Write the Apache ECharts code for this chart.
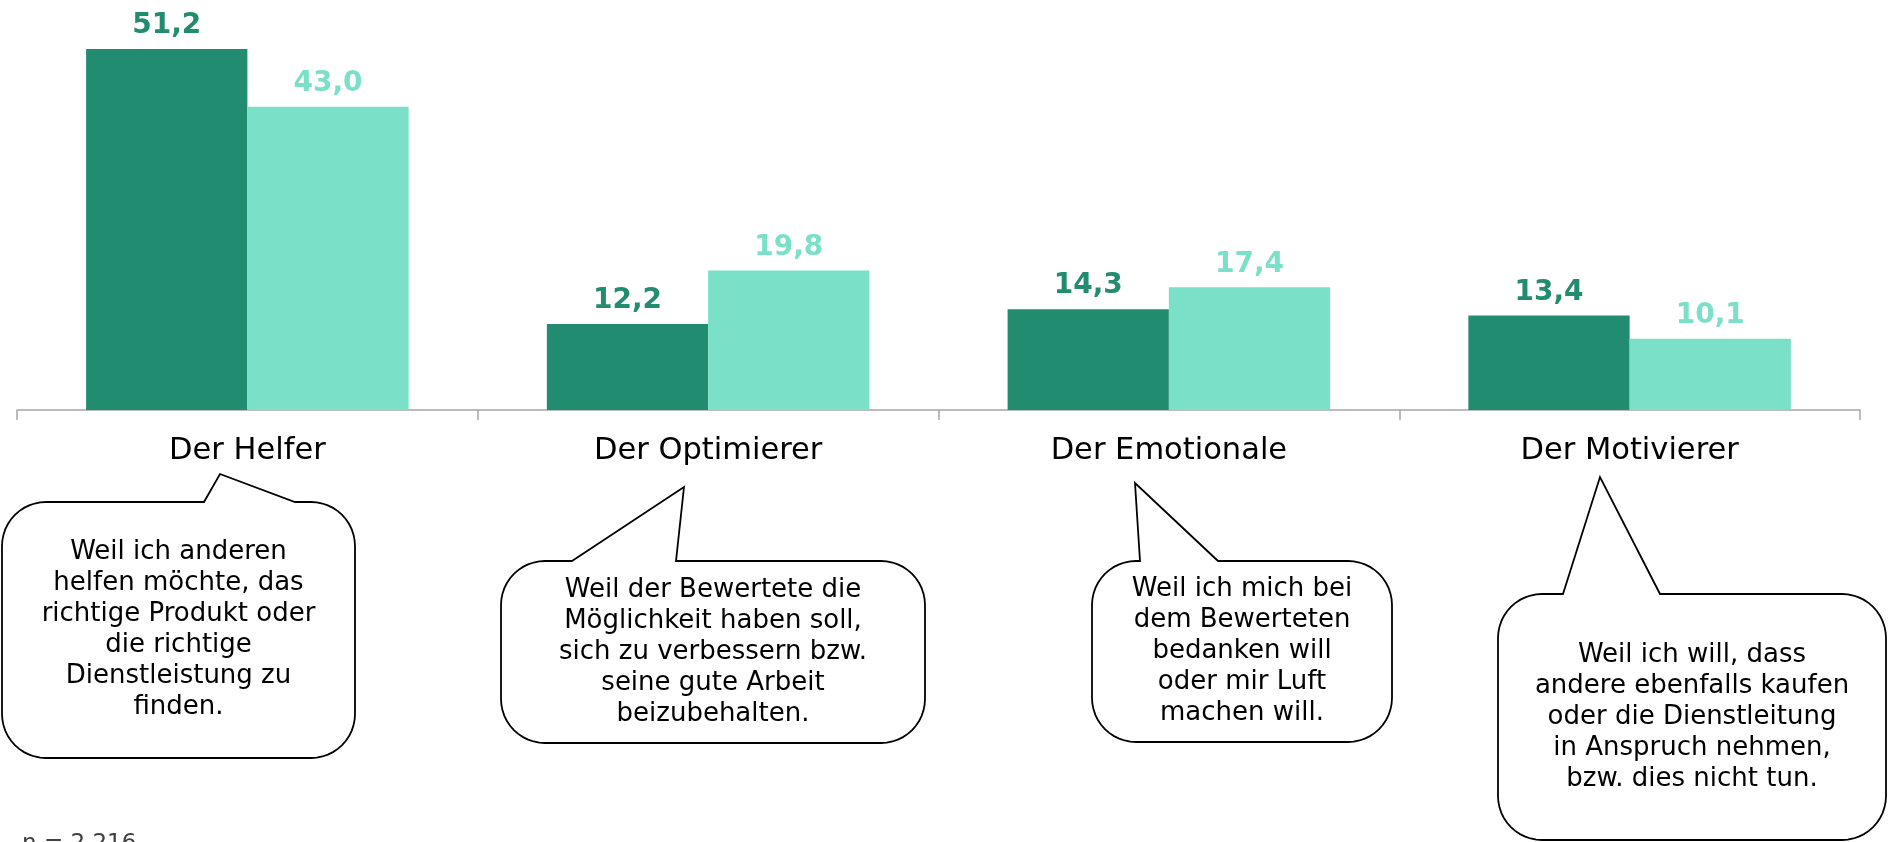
<!DOCTYPE html>
<html>
<head>
<meta charset="utf-8">
<script src="https://cdn.jsdelivr.net/npm/echarts@6/dist/echarts.min.js"></script>
<style>
  html, body { margin: 0; padding: 0; background: #fff; }
  #chart { width: 1904px; height: 842px; }
</style>
</head>
<body>
<div id="chart"></div>
<script>
var categories = ['Der Helfer', 'Der Optimierer', 'Der Emotionale', 'Der Motivierer'];
var valuesDark = [51.2, 12.2, 14.3, 13.4];
var valuesLight = [43.0, 19.8, 17.4, 10.1];

var bubbleTexts = [
  ['Weil ich anderen', 'helfen möchte, das', 'richtige Produkt oder', 'die richtige', 'Dienstleistung zu', 'finden.'],
  ['Weil der Bewertete die', 'Möglichkeit haben soll,', 'sich zu verbessern bzw.', 'seine gute Arbeit', 'beizubehalten.'],
  ['Weil ich mich bei', 'dem Bewerteten', 'bedanken will', 'oder mir Luft', 'machen will.'],
  ['Weil ich will, dass', 'andere ebenfalls kaufen', 'oder die Dienstleitung', 'in Anspruch nehmen,', 'bzw. dies nicht tun.']
];
var footnote = 'n = 2.216';

var DARK = '#228c71';
var LIGHT = '#7be0c8';
var FONT = 'Verdana, "DejaVu Sans", sans-serif';

// box: x0, y0, x1, y1 ; tail: start x on top edge, tip x, tip y, end x on top edge
var bubbleBoxes = [
  {x0: 2, y0: 502, x1: 355, y1: 758, tail: [204, 220, 474, 295]},
  {x0: 501, y0: 561, x1: 925, y1: 743, tail: [572, 684, 487, 676]},
  {x0: 1092, y0: 561, x1: 1392, y1: 742, tail: [1140, 1135, 483, 1218]},
  {x0: 1498, y0: 594, x1: 1886, y1: 840, tail: [1563, 1600, 477, 1660]}
];

// outline of a speech bubble as polygon points
function bubblePoints(b, r) {
  var pts = [];
  var t = b.tail;
  function arc(cx, cy, a0, a1) {
    for (var i = 0; i <= 12; i++) {
      var a = a0 + (a1 - a0) * i / 12;
      pts.push([cx + r * Math.cos(a), cy + r * Math.sin(a)]);
    }
  }
  pts.push([t[0], b.y0], [t[1], t[2]], [t[3], b.y0]);
  arc(b.x1 - r, b.y0 + r, -Math.PI / 2, 0);
  arc(b.x1 - r, b.y1 - r, 0, Math.PI / 2);
  arc(b.x0 + r, b.y1 - r, Math.PI / 2, Math.PI);
  arc(b.x0 + r, b.y0 + r, Math.PI, Math.PI * 1.5);
  return pts;
}

var graphics = [];
bubbleBoxes.forEach(function (b, i) {
  graphics.push({
    type: 'polygon',
    shape: {points: bubblePoints(b, 44)},
    style: {fill: '#fff', stroke: '#000', lineWidth: 1.8},
    z: 10
  });
  graphics.push({
    type: 'text',
    x: (b.x0 + b.x1) / 2,
    y: (b.y0 + b.y1) / 2,
    style: {
      text: bubbleTexts[i].join('\n'),
      font: '26px ' + FONT,
      fill: '#000',
      align: 'center',
      verticalAlign: 'middle',
      lineHeight: 31
    },
    z: 11
  });
});
graphics.push({
  type: 'text',
  x: 22,
  y: 833,
  style: {text: footnote, font: '23px ' + FONT, fill: '#404040', verticalAlign: 'top'}
});

var chart = echarts.init(document.getElementById('chart'));

function fmt(p) {
  return p.value.toFixed(1).replace('.', ',');
}

chart.setOption({
  animation: false,
  grid: {
    top: 49,
    left: 17,
    right: 44,
    bottom: 432
  },
  xAxis: {
    type: 'category',
    data: categories,
    axisLine: {lineStyle: {color: '#a6a6a6', width: 1.5}},
    axisTick: {show: true, length: 10, lineStyle: {color: '#a6a6a6', width: 1.5}},
    axisLabel: {
      color: '#000',
      fontSize: 30.5,
      fontFamily: FONT,
      margin: 26
    }
  },
  yAxis: {
    type: 'value',
    min: 0,
    max: 51.2,
    show: false,
    splitLine: {show: false}
  },
  series: [{
    name: 'A',
    type: 'bar',
    data: valuesDark,
    barGap: 0,
    barCategoryGap: '30%',
    itemStyle: {color: DARK},
    label: {
      show: true,
      position: 'top',
      distance: 9,
      formatter: fmt,
      color: DARK,
      fontWeight: 'bold',
      fontSize: 28,
      fontFamily: FONT
    }
  }, {
    name: 'B',
    type: 'bar',
    data: valuesLight,
    barGap: 0,
    barCategoryGap: '30%',
    itemStyle: {color: LIGHT},
    label: {
      show: true,
      position: 'top',
      distance: 9,
      formatter: fmt,
      color: LIGHT,
      fontWeight: 'bold',
      fontSize: 28,
      fontFamily: FONT
    }
  }],
  graphic: graphics
});
</script>
</body>
</html>
